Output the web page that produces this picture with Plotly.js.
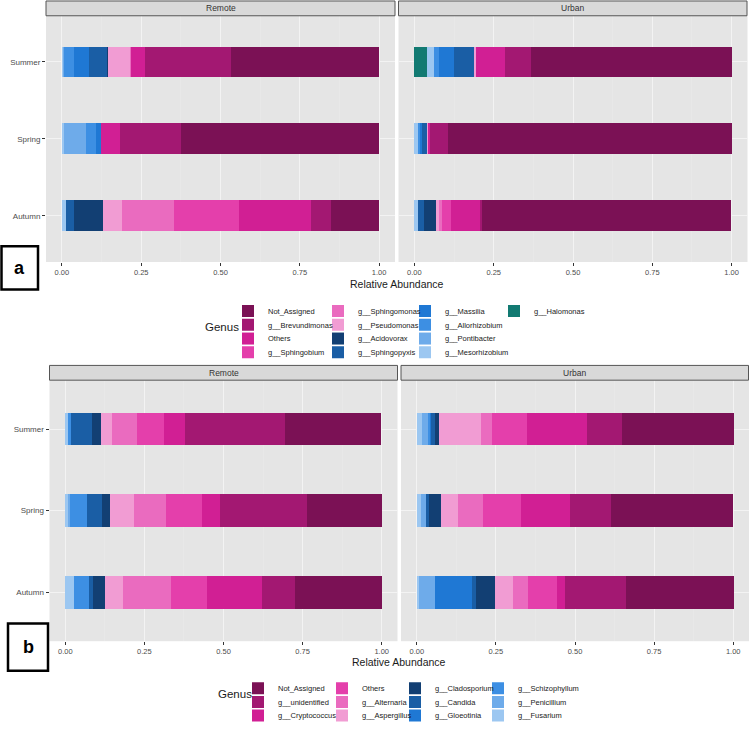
<!DOCTYPE html>
<html>
<head>
<meta charset="utf-8">
<script src="https://cdn.plot.ly/plotly-3.0.1.min.js"></script>
<style>
html,body{margin:0;padding:0;background:#fff;width:750px;height:730px;overflow:hidden;}
#chart{width:750px;height:730px;overflow:hidden;position:absolute;left:0;top:0;}
</style>
</head>
<body>
<div id="chart"></div>
<script>
// ---------------- DATA ----------------
const seasons = ['Summer', 'Spring', 'Autumn'];

// Panel a (bacteria) genera, legend order
const bacGenera = ['Not_Assigned', 'g__Brevundimonas', 'Others', 'g__Sphingobium',
  'g__Sphingomonas', 'g__Pseudomonas', 'g__Acidovorax', 'g__Sphingopyxis',
  'g__Massilia', 'g__Allorhizobium', 'g__Pontibacter', 'g__Mesorhizobium', 'g__Halomonas'];
const bacColors = ['#7b1155', '#a31872', '#d11f94', '#e43fab', '#ea6bbf', '#f19cd3',
  '#123f73', '#1a5ea5', '#1f78d4', '#3d8fe3', '#6eabea', '#9cc7f1', '#127a72'];

// values in bacGenera order
const aRemoteSummer = [0.467, 0.270, 0.043, 0.002, 0.003, 0.068, 0.005, 0.056, 0.047, 0.032, 0.002, 0.004, 0.000];
const aRemoteSpring = [0.625, 0.192, 0.061, 0.000, 0.000, 0.000, 0.000, 0.000, 0.015, 0.032, 0.069, 0.006, 0.000];
const aRemoteAutumn = [0.154, 0.062, 0.228, 0.204, 0.164, 0.058, 0.093, 0.026, 0.000, 0.000, 0.000, 0.012, 0.000];
const aUrbanSummer  = [0.632, 0.081, 0.092, 0.000, 0.002, 0.005, 0.000, 0.062, 0.047, 0.017, 0.000, 0.023, 0.039];
const aUrbanSpring  = [0.895, 0.057, 0.005, 0.000, 0.000, 0.004, 0.000, 0.014, 0.007, 0.008, 0.000, 0.010, 0.000];
const aUrbanAutumn  = [0.786, 0.006, 0.090, 0.030, 0.008, 0.012, 0.038, 0.019, 0.000, 0.000, 0.000, 0.010, 0.000];

// Panel b (fungi) genera, legend order
const funGenera = ['Not_Assigned', 'g__unidentified', 'g__Cryptococcus', 'Others',
  'g__Alternaria', 'g__Aspergillus', 'g__Cladosporium', 'g__Candida',
  'g__Gloeotinia', 'g__Schizophyllum', 'g__Penicillium', 'g__Fusarium'];
const funColors = ['#7b1155', '#a31872', '#d11f94', '#e43fab', '#ea6bbf', '#f19cd3',
  '#123f73', '#1a5ea5', '#1f78d4', '#3d8fe3', '#6eabea', '#9cc7f1'];

const bRemoteSummer = [0.305, 0.316, 0.067, 0.086, 0.079, 0.034, 0.028, 0.066, 0.000, 0.011, 0.000, 0.007];
const bRemoteSpring = [0.236, 0.275, 0.057, 0.115, 0.100, 0.078, 0.023, 0.050, 0.000, 0.052, 0.008, 0.007];
const bRemoteAutumn = [0.275, 0.103, 0.174, 0.113, 0.152, 0.057, 0.040, 0.011, 0.000, 0.048, 0.000, 0.027];
const bUrbanSummer  = [0.353, 0.109, 0.191, 0.109, 0.035, 0.133, 0.015, 0.010, 0.005, 0.006, 0.018, 0.017];
const bUrbanSpring  = [0.386, 0.129, 0.155, 0.121, 0.078, 0.055, 0.038, 0.008, 0.000, 0.000, 0.017, 0.013];
const bUrbanAutumn  = [0.339, 0.194, 0.024, 0.094, 0.046, 0.058, 0.059, 0.014, 0.114, 0.000, 0.053, 0.006];

const xTickVals = [0, 0.25, 0.5, 0.75, 1];
const siteNames = ['Remote', 'Urban'];
const axisTitle = 'Relative Abundance';
const legendTitle = 'Genus';

// ---------------- LAYOUT HELPERS ----------------
const W = 750, H = 730;
const px = v => v / W;
const py = v => 1 - v / H;
const FONT = '"Liberation Sans", Arial, sans-serif';

const traces = [];
const legends = {};
let legendCount = 0;

function legendBox(left, rowCenter) {
  return {x: px(left), y: py(rowCenter - 10), xanchor: 'left', yanchor: 'top', orientation: 'v',
    bgcolor: 'rgba(0,0,0,0)', borderwidth: 0, itemwidth: 30, tracegroupgap: 0,
    font: {family: FONT, size: 7.5, color: '#1a1a1a'}, traceorder: 'normal',
    itemclick: false, itemdoubleclick: false};
}

// one legend box per legend key so the key grid can be laid out column-wise like ggplot
function addPanel(genera, colors, siteRows, axes, rowsPerCol, colLefts, rowCenters) {
  const ids = genera.map(() => {
    legendCount += 1;
    return legendCount === 1 ? 'legend' : 'legend' + legendCount;
  });
  genera.forEach((g, gi) => {
    legends[ids[gi]] = legendBox(colLefts[Math.floor(gi / rowsPerCol)], rowCenters[gi % rowsPerCol]);
  });
  for (let gi = genera.length - 1; gi >= 0; gi--) {
    siteRows.forEach((rows, si) => {
      traces.push({
        type: 'bar',
        orientation: 'h',
        name: genera[gi],
        y: seasons,
        x: rows.map(r => r[gi]),
        width: 0.4,
        marker: {color: colors[gi], line: {width: 0}},
        xaxis: axes[si][0],
        yaxis: axes[si][1],
        showlegend: si === 0,
        legend: ids[gi],
        hoverinfo: 'name+x+y'
      });
    });
  }
}

addPanel(bacGenera, bacColors,
  [[aRemoteSummer, aRemoteSpring, aRemoteAutumn], [aUrbanSummer, aUrbanSpring, aUrbanAutumn]],
  [['x', 'y'], ['x2', 'y2']], 4, [228, 318, 405, 494], [311, 325, 339, 353]);
addPanel(funGenera, funColors,
  [[bRemoteSummer, bRemoteSpring, bRemoteAutumn], [bUrbanSummer, bUrbanSpring, bUrbanAutumn]],
  [['x3', 'y3'], ['x4', 'y4']], 3, [238, 322, 395, 478], [694, 708, 722]);

function xAxis(d0, d1, anchor) {
  return {
    domain: [px(d0), px(d1)], anchor: anchor, range: [-0.05, 1.05],
    tickvals: xTickVals, tickformat: '.2f',
    ticks: 'outside', ticklen: 3, tickcolor: '#333333', tickwidth: 1,
    tickfont: {family: FONT, size: 7.5, color: '#4d4d4d'},
    showgrid: true, gridcolor: '#f3f3f3', gridwidth: 1,
    minor: {dtick: 0.125, tick0: 0, showgrid: true, gridcolor: '#ececec', gridwidth: 0.5},
    zeroline: false, showline: false, fixedrange: true
  };
}
function yAxis(d0, d1, anchor, labels) {
  return {
    domain: [py(d1), py(d0)], anchor: anchor, type: 'category',
    categoryorder: 'array', categoryarray: ['Autumn', 'Spring', 'Summer'],
    range: [-0.6, 2.6],
    ticks: labels ? 'outside' : '', ticklen: 3, tickcolor: '#333333',
    showticklabels: labels,
    tickfont: {family: FONT, size: 8, color: '#4d4d4d'},
    showgrid: true, gridcolor: '#f3f3f3', gridwidth: 1,
    zeroline: false, showline: false, fixedrange: true
  };
}

function strip(x0, x1, y0, y1) {
  return {type: 'rect', xref: 'paper', yref: 'paper', x0: px(x0), x1: px(x1), y0: py(y1), y1: py(y0),
    fillcolor: '#d9d9d9', line: {color: '#555555', width: 1}, layer: 'above'};
}
function stripText(txt, x0, x1, yc) {
  return {text: txt, xref: 'paper', yref: 'paper', x: px((x0 + x1) / 2), y: py(yc),
    xanchor: 'center', yanchor: 'middle', showarrow: false,
    font: {family: FONT, size: 8.5, color: '#333333'}};
}

const layout = Object.assign({
  width: W, height: H,
  margin: {l: 0, r: 0, t: 0, b: 0},
  paper_bgcolor: '#ffffff', plot_bgcolor: '#e5e5e5',
  barmode: 'stack', bargap: 0,
  font: {family: FONT},
  xaxis: xAxis(46, 395, 'y'),
  yaxis: yAxis(16, 266, 'x', true),
  xaxis2: xAxis(398.5, 747.5, 'y2'),
  yaxis2: yAxis(16, 266, 'x2', false),
  xaxis3: xAxis(49.5, 397.5, 'y3'),
  yaxis3: yAxis(386, 651, 'x3', true),
  xaxis4: xAxis(401, 749, 'y4'),
  yaxis4: yAxis(386, 651, 'x4', false),
  shapes: [
    strip(46, 395, 1, 16), strip(398.5, 747, 1, 16),
    strip(49.5, 397.5, 371, 386), strip(401, 748.5, 371, 386),
    {type: 'rect', xref: 'paper', yref: 'paper', x0: px(1.5), x1: px(38), y0: py(294), y1: py(250),
      fillcolor: '#ffffff', line: {color: '#000000', width: 2.5}},
    {type: 'rect', xref: 'paper', yref: 'paper', x0: px(8), x1: px(48), y0: py(681), y1: py(633),
      fillcolor: '#ffffff', line: {color: '#000000', width: 2.5}}
  ],
  annotations: [
    stripText(siteNames[0], 46, 395, 8.5), stripText(siteNames[1], 398.5, 747, 8.5),
    stripText(siteNames[0], 49.5, 397.5, 378.5), stripText(siteNames[1], 401, 748.5, 378.5),
    {text: axisTitle, xref: 'paper', yref: 'paper', x: px(397), y: py(288), xanchor: 'center', yanchor: 'middle',
      showarrow: false, borderpad: 0, font: {family: FONT, size: 10.5, color: '#1a1a1a'}},
    {text: axisTitle, xref: 'paper', yref: 'paper', x: px(399), y: py(672), xanchor: 'center', yanchor: 'middle',
      showarrow: false, borderpad: 0, font: {family: FONT, size: 10.5, color: '#1a1a1a'}},
    {text: legendTitle, xref: 'paper', yref: 'paper', x: px(222), y: py(332), xanchor: 'center', yanchor: 'middle',
      showarrow: false, font: {family: FONT, size: 11.5, color: '#1a1a1a'}},
    {text: legendTitle, xref: 'paper', yref: 'paper', x: px(235), y: py(705), xanchor: 'center', yanchor: 'middle',
      showarrow: false, font: {family: FONT, size: 11.5, color: '#1a1a1a'}},
    {text: '<b>a</b>', xref: 'paper', yref: 'paper', x: px(19.75), y: py(272), xanchor: 'center', yanchor: 'middle',
      showarrow: false, font: {family: FONT, size: 18, color: '#000000'}},
    {text: '<b>b</b>', xref: 'paper', yref: 'paper', x: px(28), y: py(657), xanchor: 'center', yanchor: 'middle',
      showarrow: false, font: {family: FONT, size: 18, color: '#000000'}}
  ]
}, legends);

Plotly.newPlot('chart', traces, layout, {displayModeBar: false, staticPlot: true});
</script>
</body>
</html>
